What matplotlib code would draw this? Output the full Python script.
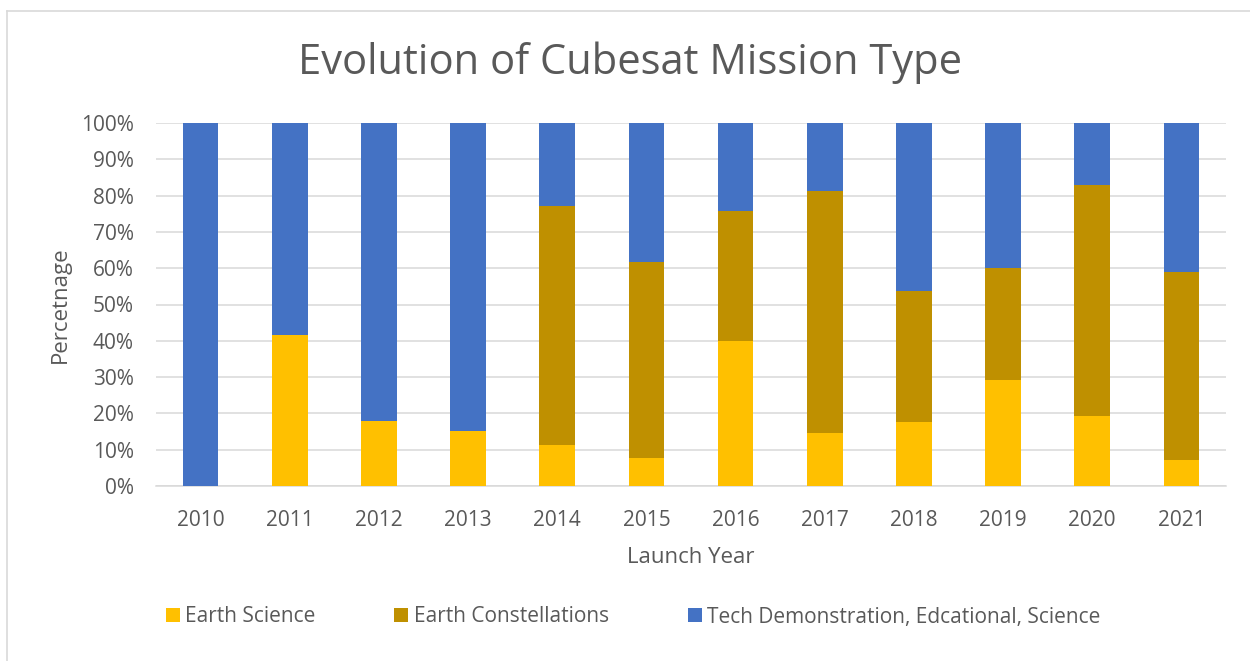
import numpy as np
import matplotlib.pyplot as plt
from matplotlib.lines import Line2D

years = ['2010', '2011', '2012', '2013', '2014', '2015',
         '2016', '2017', '2018', '2019', '2020', '2021']

# percent of launches per mission type
earth_science = [0.0, 41.5, 17.8, 15.1, 11.2, 7.6, 39.9, 14.6, 17.5, 29.1, 19.2, 7.1]
earth_constellations = [0.0, 0.0, 0.0, 0.0, 66.0, 54.0, 35.8, 66.7, 36.2, 30.9, 63.6, 51.8]
tech_demo = [100 - a - b for a, b in zip(earth_science, earth_constellations)]

series_names = ['Earth Science', 'Earth Constellations',
                'Tech Demonstration, Edcational, Science']
colors = ['#ffc000', '#bf9000', '#4472c4']

text_color = '#595959'
plt.rcParams['font.family'] = ['Open Sans', 'DejaVu Sans']

fig = plt.figure(figsize=(12.5, 6.61), dpi=100)
ax = fig.add_axes([156 / 1250, 175 / 661, (1226 - 156) / 1250, 363 / 661])

x = np.arange(len(years))
bottom = np.zeros(len(years))
for vals, name, c in zip([earth_science, earth_constellations, tech_demo], series_names, colors):
    ax.bar(x, vals, width=0.4, bottom=bottom, color=c, label=name, zorder=3)
    bottom += np.array(vals)

ax.set_xlim(-0.5, len(years) - 0.5)
ax.set_ylim(0, 100)
ax.set_yticks(np.arange(0, 101, 10))
ax.set_yticklabels(['%d%%' % v for v in range(0, 101, 10)])
ax.set_xticks(x)
ax.set_xticklabels(years)
ax.tick_params(axis='both', length=0, labelsize=15, labelcolor=text_color)
ax.tick_params(axis='x', pad=17)
ax.tick_params(axis='y', pad=16)
ax.grid(axis='y', color='#d9d9d9', linewidth=1.1, zorder=0)
for s in ['top', 'right', 'left']:
    ax.spines[s].set_visible(False)
ax.spines['bottom'].set_color('#d9d9d9')
ax.spines['bottom'].set_linewidth(1.1)

ax.set_xlabel('Launch Year', fontsize=16, color=text_color, labelpad=12)
ax.set_ylabel('Percetnage', fontsize=16, color=text_color, labelpad=7)

fig.text(630 / 1250, 1 - 63 / 661, 'Evolution of Cubesat Mission Type',
         ha='center', va='center', fontsize=30, color=text_color)

fig.legend(loc='center', bbox_to_anchor=(633 / 1250, 1 - 617 / 661), ncol=3,
           frameon=False, fontsize=15, labelcolor=text_color,
           handlelength=0.67, handleheight=0.67, handletextpad=0.25, columnspacing=3.8)

# chart frame
fig.add_artist(Line2D([6.5 / 1250, 1], [1 - 10.5 / 661] * 2, transform=fig.transFigure,
                      color='#d9d9d9', linewidth=1.2))
fig.add_artist(Line2D([6.5 / 1250] * 2, [0, 1 - 10.5 / 661], transform=fig.transFigure,
                      color='#d9d9d9', linewidth=1.2))

fig.savefig('out.png', dpi=100)
